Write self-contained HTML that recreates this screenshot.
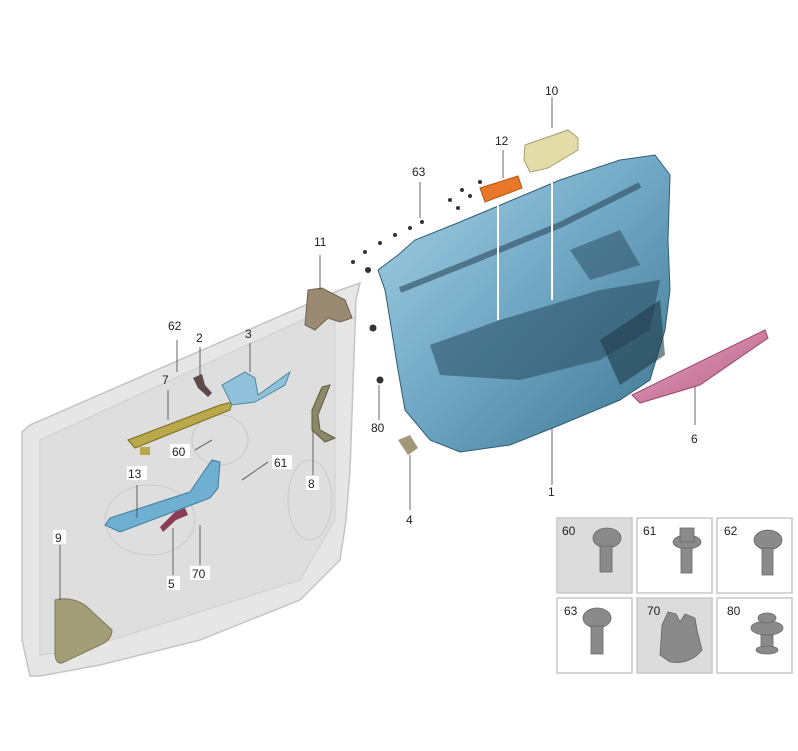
<!DOCTYPE html>
<html><head><style>
html,body{margin:0;padding:0;background:#fff;}
svg{display:block;}
text{font-family:"Liberation Sans",sans-serif;font-size:12px;fill:#222;}
</style></head><body>
<svg width="798" height="751" viewBox="0 0 798 751" xmlns="http://www.w3.org/2000/svg">
<defs>
<linearGradient id="blue" x1="0" y1="0" x2="1" y2="1">
<stop offset="0" stop-color="#a9d3e6"/><stop offset="0.5" stop-color="#6fa7c4"/><stop offset="1" stop-color="#3f7590"/>
</linearGradient>
<linearGradient id="pink" x1="0" y1="0" x2="1" y2="1">
<stop offset="0" stop-color="#e8a6c0"/><stop offset="1" stop-color="#b65c84"/>
</linearGradient>
</defs>
<!-- door inner panel -->
<path d="M22,432 L30,425 L340,290 L360,283 L356,300 L350,470 L346,520 L340,560 L300,600 L200,640 L100,665 L40,676 L30,676 L22,640 Z" fill="#e6e6e6" stroke="#c4c4c4" stroke-width="1.5"/>
<path d="M40,440 L335,305 L335,520 L300,580 L80,650 L40,655 Z" fill="#dedede" stroke="#cfcfcf"/>
<ellipse cx="150" cy="520" rx="45" ry="35" fill="none" stroke="#cacaca"/>
<ellipse cx="310" cy="500" rx="22" ry="40" fill="none" stroke="#cacaca"/>
<ellipse cx="220" cy="440" rx="28" ry="25" fill="none" stroke="#cacaca"/>
<!-- part 9 -->
<path d="M55,600 Q70,596 85,605 L112,630 Q112,640 100,645 L62,663 Q56,664 55,655 Z" fill="#a39e77" stroke="#7f7a58"/>
<!-- part 7 -->
<path d="M128,440 L220,405 L232,402 L230,410 L135,448 Z" fill="#b9a94a" stroke="#7a6c20"/>
<rect x="140" y="447" width="10" height="8" fill="#b9a94a"/>
<!-- part 3 -->
<path d="M222,385 L245,372 L255,378 L258,395 L290,372 L285,385 L255,402 L232,405 Z" fill="#8fc1da" stroke="#4f86a3"/>
<!-- part 2 -->
<path d="M193,378 L202,374 L205,385 L212,393 L208,397 L198,388 Z" fill="#5d4a4a"/>
<!-- part 8 -->
<path d="M322,387 L330,385 L318,415 L320,430 L335,438 L325,442 L312,430 L312,410 Z" fill="#8c8867" stroke="#5f5b40"/>
<!-- part 13 -->
<path d="M105,525 L110,518 L190,492 L205,470 L212,460 L220,462 L218,488 L210,498 L120,532 Z" fill="#6fb0d2" stroke="#3d7a9a"/>
<!-- part 5 -->
<path d="M160,527 L175,512 L185,508 L188,515 L176,520 L163,532 Z" fill="#8a3c55"/>
<!-- part 11 -->
<path d="M308,290 L322,288 L345,300 L352,318 L340,322 L328,318 L315,330 L305,325 Z" fill="#9a8a72" stroke="#6f6150"/>
<!-- leader lines left -->
<g stroke="#444" stroke-width="0.8">
<line x1="60" y1="545" x2="60" y2="600"/>
<line x1="137" y1="485" x2="137" y2="518"/>
<line x1="168" y1="390" x2="168" y2="420"/>
<line x1="177" y1="340" x2="177" y2="372"/>
<line x1="200" y1="347" x2="200" y2="375"/>
<line x1="250" y1="343" x2="250" y2="372"/>
<line x1="313" y1="475" x2="313" y2="430"/>
<line x1="320" y1="255" x2="320" y2="290"/>
<line x1="173" y1="575" x2="173" y2="528"/>
<line x1="200" y1="565" x2="200" y2="525"/>
<line x1="195" y1="450" x2="212" y2="440"/>
<line x1="268" y1="462" x2="242" y2="480"/>
<line x1="379" y1="420" x2="379" y2="385"/>
<line x1="410" y1="510" x2="410" y2="455"/>
<line x1="552" y1="485" x2="552" y2="420"/>
<line x1="695" y1="425" x2="695" y2="380"/>
<line x1="420" y1="182" x2="420" y2="218"/>
<line x1="503" y1="150" x2="503" y2="178"/>
<line x1="552" y1="97" x2="552" y2="128"/>
</g>
<!-- main trim panel 1 -->
<path d="M378,270 L398,255 L415,240 L460,222 L560,180 L620,160 L655,155 L670,175 L668,240 L670,290 L665,330 L650,380 L620,400 L560,425 L510,445 L460,452 L430,440 L405,410 L398,370 L390,320 L385,290 Z" fill="url(#blue)" stroke="#2e5d75" stroke-width="1"/>
<path d="M400,290 L470,262 L560,225 L640,185" fill="none" stroke="#2c4a5c" stroke-width="6" opacity="0.6"/>
<path d="M430,345 L500,320 L600,290 L660,280 L650,330 L600,360 L520,380 L440,375 Z" fill="#274a5e" opacity="0.55"/>
<path d="M600,340 L660,300 L665,355 L620,385 Z" fill="#1f3a4a" opacity="0.6"/>
<path d="M570,250 L620,230 L640,265 L590,280 Z" fill="#2e5266" opacity="0.55"/>
<!-- screws near 63 -->
<g fill="#333">
<circle cx="353" cy="262" r="2"/><circle cx="365" cy="252" r="2"/><circle cx="380" cy="243" r="2"/><circle cx="395" cy="235" r="2"/><circle cx="410" cy="228" r="2"/><circle cx="422" cy="222" r="2"/>
<circle cx="368" cy="270" r="3"/><circle cx="373" cy="328" r="3.5"/><circle cx="380" cy="380" r="3.5"/>
<circle cx="450" cy="200" r="2"/><circle cx="458" cy="208" r="2"/><circle cx="462" cy="190" r="2"/><circle cx="470" cy="196" r="2"/><circle cx="480" cy="182" r="2"/>
</g>
<!-- 12 orange -->
<path d="M480,188 L518,176 L522,188 L485,202 Z" fill="#e8772a" stroke="#b55410"/>
<!-- 10 -->
<path d="M525,145 L568,130 L578,138 L578,150 L548,168 L530,172 L524,160 Z" fill="#e3dba8" stroke="#a69f6e"/>
<line x1="552" y1="170" x2="552" y2="300" stroke="#fff" stroke-width="2"/>
<line x1="498" y1="205" x2="498" y2="320" stroke="#fff" stroke-width="2"/>
<!-- 6 pink strip -->
<path d="M632,395 L765,330 L768,338 L700,385 L640,403 Z" fill="url(#pink)" stroke="#9b4770"/>
<!-- 4 -->
<path d="M398,440 L410,435 L418,448 L408,455 Z" fill="#a09878"/>
<!-- labels -->
<text x="545" y="95">10</text>
<text x="495" y="145">12</text>
<text x="412" y="176">63</text>
<text x="314" y="246">11</text>
<text x="168" y="330">62</text>
<text x="196" y="342">2</text>
<text x="245" y="338">3</text>
<text x="162" y="384">7</text>
<text x="371" y="432">80</text>
<g>
<rect x="170" y="444" width="20" height="14" fill="#fff"/><text x="172" y="456">60</text>
<rect x="272" y="455" width="20" height="14" fill="#fff"/><text x="274" y="467">61</text>
<rect x="127" y="466" width="20" height="14" fill="#fff"/><text x="128" y="478">13</text>
<rect x="53" y="530" width="13" height="14" fill="#fff"/><text x="55" y="542">9</text>
<rect x="306" y="476" width="13" height="14" fill="#fff"/><text x="308" y="488">8</text>
<rect x="190" y="566" width="20" height="14" fill="#fff"/><text x="192" y="578">70</text>
<rect x="167" y="576" width="13" height="14" fill="#fff"/><text x="168" y="588">5</text>
</g>
<text x="406" y="524">4</text>
<text x="548" y="496">1</text>
<text x="691" y="443">6</text>
<!-- fastener grid -->
<g stroke="#c8c8c8" stroke-width="1.5">
<rect x="557" y="518" width="75" height="75" fill="#dcdcdc"/>
<rect x="637" y="518" width="75" height="75" fill="#fff"/>
<rect x="717" y="518" width="75" height="75" fill="#fff"/>
<rect x="557" y="598" width="75" height="75" fill="#fff"/>
<rect x="637" y="598" width="75" height="75" fill="#dcdcdc"/>
<rect x="717" y="598" width="75" height="75" fill="#fff"/>
</g>
<g fill="#8a8a8a" stroke="#666" stroke-width="0.8">
<ellipse cx="607" cy="538" rx="14" ry="10"/><rect x="600" y="546" width="12" height="26"/>
<ellipse cx="687" cy="542" rx="14" ry="7"/><rect x="680" y="528" width="14" height="14"/><rect x="681" y="548" width="11" height="25"/>
<ellipse cx="768" cy="540" rx="14" ry="10"/><rect x="762" y="548" width="11" height="27"/>
<ellipse cx="597" cy="618" rx="14" ry="10"/><rect x="591" y="626" width="12" height="28"/>
<path d="M660,655 L662,625 L668,612 L676,614 L680,622 L685,614 L695,618 L697,630 L702,650 Q690,665 670,662 Z"/>
<ellipse cx="767" cy="628" rx="16" ry="7"/><ellipse cx="767" cy="618" rx="9" ry="5"/><rect x="761" y="635" width="12" height="16"/><ellipse cx="767" cy="650" rx="11" ry="4"/>
</g>
<g style="font-size:13px">
<text x="562" y="535">60</text><text x="643" y="535">61</text><text x="724" y="535">62</text>
<text x="564" y="615">63</text><text x="647" y="615">70</text><text x="727" y="615">80</text>
</g>
</svg>
</body></html>
